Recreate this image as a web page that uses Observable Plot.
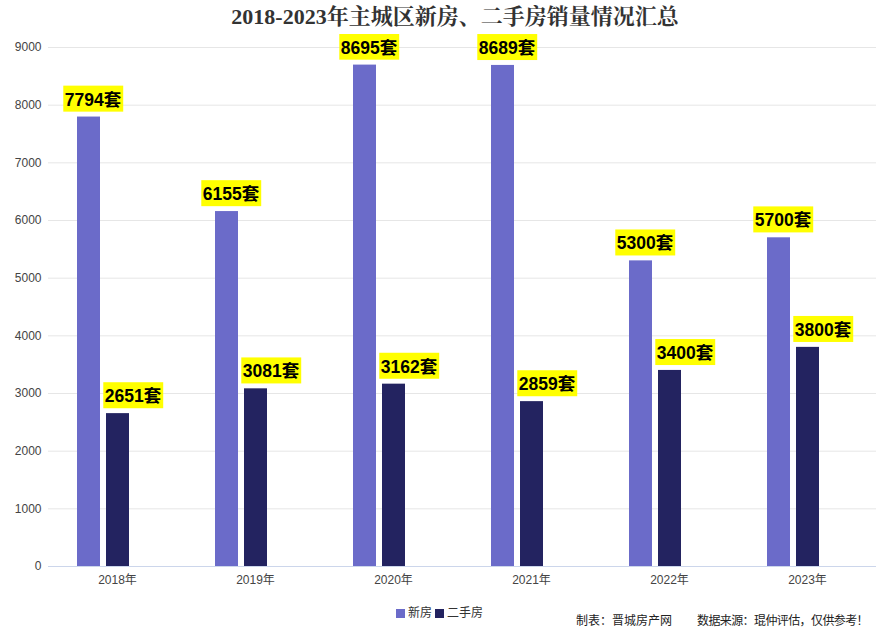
<!DOCTYPE html>
<html>
<head>
<meta charset="utf-8">
<script src="https://cdn.jsdelivr.net/npm/d3@7"></script>
<script src="https://cdn.jsdelivr.net/npm/@observablehq/plot@0.6"></script>
<style>
  html, body { margin: 0; padding: 0; background: #fff; }
  body { width: 894px; height: 632px; overflow: hidden; font-family: "Liberation Sans", "Noto Sans CJK SC", sans-serif; }
  #title { height: 34px; line-height: 34px; text-align: center; font-family: "Liberation Serif", "Noto Serif CJK SC", "Noto Sans CJK SC", serif; font-weight: bold; font-size: 22px; color: #333; padding-left: 16px; box-sizing: border-box; }
  #footer { position: relative; height: 36px; font-size: 12px; color: #333; }
  #legend { position: absolute; left: 396px; top: 9px; display: flex; align-items: center; font-size: 12px; color: #333; line-height: 16px; }
  .sw { display: inline-block; width: 9px; height: 9px; margin-right: 3px; }
  .item { display: flex; align-items: center; margin-right: 3px; }
  #c1 { position: absolute; left: 576px; top: 17px; white-space: nowrap; font-size: 12px; color: #222; line-height: 16px; }
  #c2 { position: absolute; left: 697px; top: 17px; white-space: nowrap; font-size: 12px; color: #222; line-height: 16px; letter-spacing: -0.6px; }
</style>
</head>
<body>
<div id="title">2018-2023年主城区新房、二手房销量情况汇总</div>
<div id="chart"></div>
<div id="footer">
  <div id="legend"></div>
  <div id="c1">制表：晋城房产网</div>
  <div id="c2">数据来源：琨仲评估，仅供参考！</div>
</div>
<script>
const years = ["2018年", "2019年", "2020年", "2021年", "2022年", "2023年"];
const series = ["新房", "二手房"];
const newHomes = [7794, 6155, 8695, 8689, 5300, 5700];
const secondHand = [2651, 3081, 3162, 2859, 3400, 3800];
const yTicks = [0, 1000, 2000, 3000, 4000, 5000, 6000, 7000, 8000, 9000];
const colors = ["#6b6bc9", "#232360"];
const unit = "套";

const data = [];
years.forEach((y, i) => {
  data.push({year: y, series: series[0], value: newHomes[i]});
  data.push({year: y, series: series[1], value: secondHand[i]});
});

const labelStyle = {fontSize: 17.5, fontWeight: "bold", fill: "#000", fontFamily: "Liberation Sans, Noto Sans CJK SC, sans-serif"};

const chart = Plot.plot({
  width: 894,
  height: 562,
  marginLeft: 47,
  marginRight: 18,
  marginTop: 13,
  marginBottom: 30,
  style: {fontSize: "12px", fontFamily: "Liberation Sans, Noto Sans CJK SC, sans-serif", color: "#444", background: "#fff"},
  fx: {domain: years, padding: 0, label: null, tickSize: 0, tickPadding: 9},
  x: {domain: [...series, "·"], paddingInner: 0.22, paddingOuter: 0.95, axis: null},
  y: {domain: [0, 9000], ticks: yTicks, tickSize: 0, tickPadding: 7, label: null, tickFormat: d => String(d)},
  color: {domain: series, range: colors},
  marks: [
    Plot.ruleY(yTicks.slice(1), {stroke: "#e6e6e6"}),
    Plot.ruleY([0], {stroke: "#ccd6eb"}),
    Plot.barY(data, {fx: "year", x: "series", y: "value", fill: "series"}),
    Plot.text(data.filter(d => d.series === series[0]), {fx: "year", x: "series", y: "value", text: d => d.value + unit, dy: -17, dx: 4, className: "lbl", ...labelStyle}),
    Plot.text(data.filter(d => d.series === series[1]), {fx: "year", x: "series", y: "value", text: d => d.value + unit, dy: -17, dx: 15, className: "lbl", ...labelStyle})
  ]
});
document.getElementById("chart").appendChild(chart);

// yellow label backgrounds derived from the rendered text positions
const svgNS = "http://www.w3.org/2000/svg";
chart.querySelectorAll(".lbl text").forEach(t => {
  const bb = t.getBBox();
  const r = document.createElementNS(svgNS, "rect");
  const h = 26;
  r.setAttribute("x", bb.x - 1.5);
  r.setAttribute("width", bb.width + 3);
  r.setAttribute("y", bb.y + bb.height / 2 - h / 2 - 1);
  r.setAttribute("height", h);
  r.setAttribute("fill", "#ffff00");
  const tr = t.getAttribute("transform");
  if (tr) r.setAttribute("transform", tr);
  t.parentNode.insertBefore(r, t);
});

const legend = document.getElementById("legend");
series.forEach((s, i) => {
  const it = document.createElement("span");
  it.className = "item";
  it.innerHTML = `<span class="sw" style="background:${colors[i]}"></span>${s}`;
  legend.appendChild(it);
});
</script>
</body>
</html>
